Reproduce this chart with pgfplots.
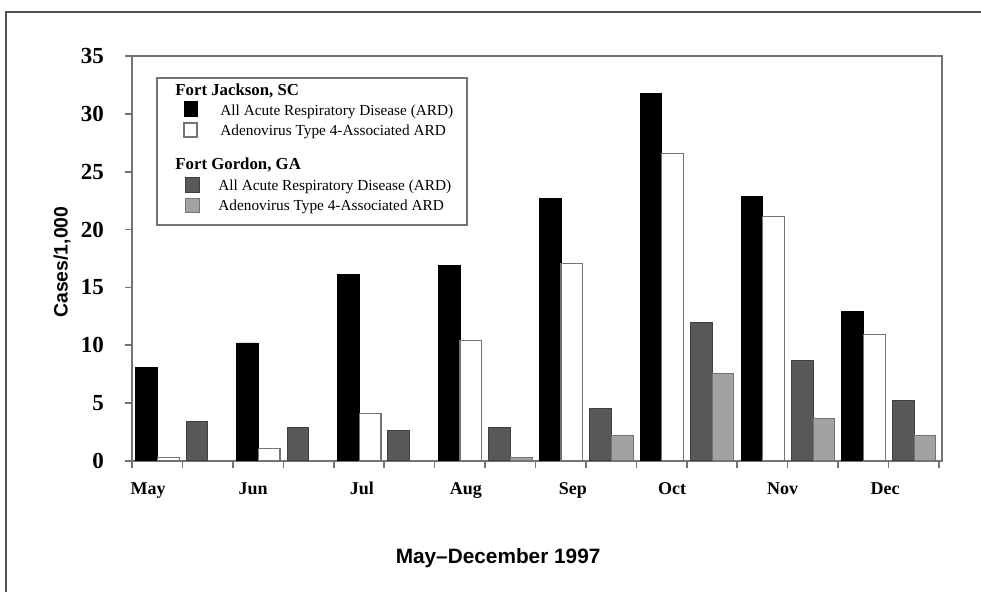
\documentclass[border=0pt]{standalone}
\usepackage{pgfplots}
\pgfplotsset{compat=1.18}
\usepackage{pgfplotstable}
\usepackage{fontspec}
\setmainfont{Liberation Serif}
\setsansfont{Liberation Sans}
\definecolor{dg}{RGB}{88,88,88}
\definecolor{lg}{RGB}{162,162,162}
\definecolor{axc}{RGB}{115,115,115}
\definecolor{frm}{RGB}{80,80,80}

\pgfplotstableread{
m black white dark light
0 8.1 0.3 3.4 0
1 10.2 1.1 2.9 0
2 16.1 4.1 2.6 0
3 16.9 10.4 2.9 0.3
4 22.7 17.1 4.5 2.2
5 31.8 26.6 12.0 7.6
6 22.9 21.1 8.7 3.7
7 12.9 10.9 5.2 2.2
}\datatab

\begin{document}
\begin{tikzpicture}
\useasboundingbox (0,0) rectangle (490.5pt,-296pt);
\draw[frm, line width=1pt] (3pt,-296pt) -- (3pt,-6pt) -- (490.5pt,-6pt);
\begin{axis}[
  at={(66pt,-230.5pt)}, anchor=origin,
  scale only axis, width=405pt, height=202.5pt,
  xmin=0, xmax=16.06, ymin=0, ymax=35,
  axis line style={axc, line width=0.9pt},
  tick style={axc, line width=0.8pt},
  tick align=outside, tick pos=left,
  major tick length=3.5pt,
  xtick={0,...,16}, xticklabels={},
  extra x ticks={0.32,2.4,4.56,6.62,8.74,10.71,12.9,14.93},
  extra x tick labels={May,Jun,Jul,Aug,Sep,Oct,Nov,Dec},
  extra x tick style={major tick length=0pt,
     xticklabel style={yshift=-7pt, text height=6pt, text depth=2pt, font=\fontsize{9}{10}\selectfont\bfseries}},
  ytick={0,5,...,35},
  yticklabel style={xshift=-7pt, font=\fontsize{11.5}{13}\selectfont\bfseries},
  /pgf/number format/assume math mode=true,
  ylabel={Cases/1,000},
  every axis y label/.style={at={(axis description cs:-0.0864,0.491)}, rotate=90, anchor=center,
     font=\fontsize{9.7}{11}\selectfont\sffamily\bfseries},
  xlabel={May--December 1997},
  every axis x label/.style={at={(axis description cs:0.452,-0.2395)}, anchor=center,
     font=\fontsize{10.4}{12}\selectfont\sffamily\bfseries},
]
\addplot[ybar, bar shift=0pt, bar width=0.43, fill=black, draw=black, line width=0.4pt]
  table[x expr=2*\thisrow{m}+0.29, y=black]{\datatab};
\addplot[ybar, bar shift=0pt, bar width=0.43, fill=white, draw=axc, line width=0.6pt]
  table[x expr=2*\thisrow{m}+0.72, y=white]{\datatab};
\addplot[ybar, bar shift=0pt, bar width=0.43, fill=dg, draw=black!75, line width=0.5pt]
  table[x expr=2*\thisrow{m}+1.29, y=dark]{\datatab};
\addplot[ybar, bar shift=0pt, bar width=0.43, fill=lg, draw=black!55, line width=0.5pt]
  table[x expr=2*\thisrow{m}+1.72, y=light]{\datatab};
\end{axis}
\begin{scope}[x=0.5pt, y=-0.5pt]
\draw[axc, line width=0.8pt, fill=white] (157,78) rectangle (467,225);
\node[anchor=west, inner sep=0pt, font=\fontsize{8.4}{10}\selectfont\bfseries] at (175,91) {Fort Jackson, SC};
\node[anchor=west, inner sep=0pt, font=\fontsize{8.4}{10}\selectfont\bfseries] at (175,165) {Fort Gordon, GA};
\filldraw[fill=black, draw=black] (184,101) rectangle (197,116);
\filldraw[fill=white, draw=axc, line width=0.6pt] (184,123) rectangle (197,137);
\filldraw[fill=dg, draw=black!75] (185,177) rectangle (199,192);
\filldraw[fill=lg, draw=black!55] (185,198) rectangle (199,212);
\node[anchor=west, inner sep=0pt, font=\fontsize{7.65}{9}\selectfont] at (220,112) {All Acute Respiratory Disease (ARD)};
\node[anchor=west, inner sep=0pt, font=\fontsize{7.65}{9}\selectfont] at (220,132) {Adenovirus Type 4-Associated ARD};
\node[anchor=west, inner sep=0pt, font=\fontsize{7.65}{9}\selectfont] at (218,187) {All Acute Respiratory Disease (ARD)};
\node[anchor=west, inner sep=0pt, font=\fontsize{7.65}{9}\selectfont] at (218,207) {Adenovirus Type 4-Associated ARD};
\end{scope}
\end{tikzpicture}
\end{document}
